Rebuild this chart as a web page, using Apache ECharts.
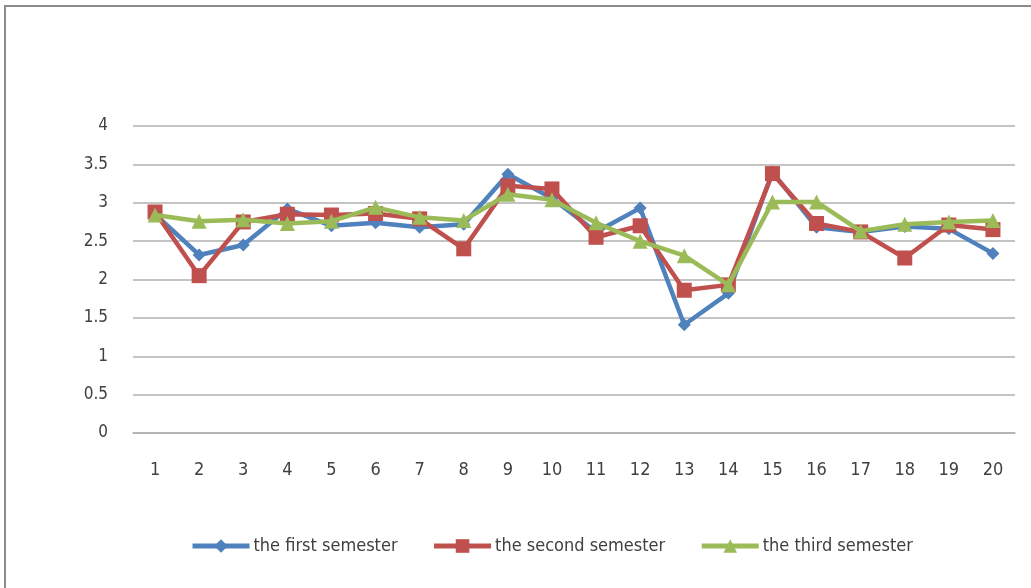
<!DOCTYPE html>
<html>
<head>
<meta charset="utf-8">
<script src="https://cdn.jsdelivr.net/npm/echarts@6/dist/echarts.min.js"></script>
<style>
  html, body { margin: 0; padding: 0; background: #ffffff; overflow: hidden; }
  #frame { position: absolute; left: 4px; top: 5px; width: 1040px; height: 600px;
           border-left: 2px solid #8c8c8c; border-top: 2px solid #8c8c8c; }
  #chart { position: absolute; left: 0; top: 0; width: 1031px; height: 588px; }
</style>
</head>
<body>
<div id="frame"></div>
<div id="chart"></div>
<script>
// Categories (x axis)
const categories = ['1','2','3','4','5','6','7','8','9','10','11','12','13','14','15','16','17','18','19','20'];

// Series names
const seriesNames = ['the first semester', 'the second semester', 'the third semester'];

// Series values
const firstSemester  = [2.85, 2.32, 2.45, 2.92, 2.70, 2.74, 2.68, 2.72, 3.37, 3.06, 2.62, 2.93, 1.41, 1.82, 3.40, 2.68, 2.62, 2.69, 2.66, 2.34];
const secondSemester = [2.88, 2.05, 2.75, 2.85, 2.84, 2.86, 2.79, 2.40, 3.22, 3.18, 2.55, 2.70, 1.86, 1.93, 3.38, 2.73, 2.62, 2.28, 2.71, 2.65];
const thirdSemester  = [2.84, 2.76, 2.78, 2.73, 2.76, 2.94, 2.81, 2.77, 3.11, 3.04, 2.74, 2.50, 2.31, 1.93, 3.01, 3.01, 2.63, 2.72, 2.75, 2.77];

// Y axis ticks
const yMin = 0, yMax = 4, yStep = 0.5;

const FONT = "'Liberation Sans Narrow', 'DejaVu Sans Condensed', 'Liberation Sans', sans-serif";
const colors = ['#4F81BD', '#C0504D', '#9BBB59'];
const symbols = ['diamond', 'rect', 'triangle'];
const symbolSizes = [13, 15, 15];
const data = [firstSemester, secondSemester, thirdSemester];

const chart = echarts.init(document.getElementById('chart'), null, { renderer: 'canvas' });

chart.setOption({
  animation: false,
  backgroundColor: 'transparent',
  color: colors,
  grid: { left: 133, right: 16, top: 126, bottom: 155, containLabel: false },
  legend: {
    top: 537,
    left: 190,
    padding: 0,
    itemWidth: 57,
    itemHeight: 17,
    itemGap: 34,
    lineStyle: { width: 5 },
    textStyle: { fontFamily: FONT, fontSize: 18, color: '#404040', padding: [0, 0, 0, -1] },
    data: seriesNames
  },
  xAxis: {
    type: 'category',
    data: categories,
    boundaryGap: true,
    axisLine: { show: true, lineStyle: { color: '#b0b0b0', width: 1.5 } },
    axisTick: { show: false },
    axisLabel: { fontFamily: FONT, fontSize: 18, color: '#404040', margin: 28 }
  },
  yAxis: {
    type: 'value',
    min: yMin,
    max: yMax,
    interval: yStep,
    axisLine: { show: false },
    axisTick: { show: false },
    axisLabel: { fontFamily: FONT, fontSize: 17, color: '#404040', margin: 25 },
    splitLine: { lineStyle: { color: '#b0b0b0', width: 1.5 } }
  },
  series: seriesNames.map((name, i) => ({
    name: name,
    type: 'line',
    data: data[i],
    symbol: symbols[i],
    symbolSize: symbolSizes[i],
    showAllSymbol: true,
    lineStyle: { width: 4.5, color: colors[i] },
    itemStyle: { color: colors[i] },
    z: 3 + i
  }))
});
</script>
</body>
</html>
